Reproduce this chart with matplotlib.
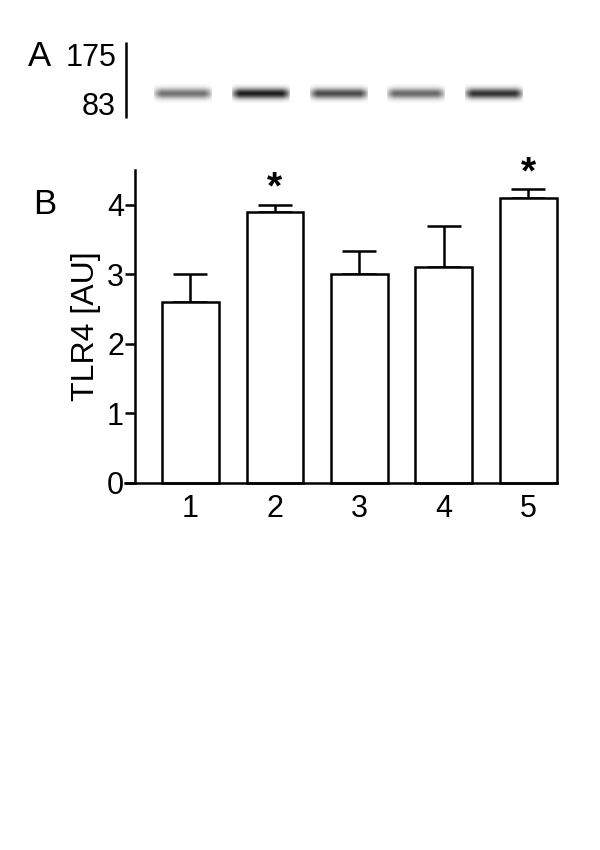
import matplotlib.pyplot as plt
import numpy as np

plt.rcParams['font.family'] = ['Liberation Sans', 'DejaVu Sans']

groups = ['1', '2', '3', '4', '5']
tlr4 = [2.6, 3.9, 3.0, 3.1, 4.1]
tlr4_err = [0.4, 0.1, 0.33, 0.6, 0.12]
signif = [False, True, False, False, True]
yticks = [0, 1, 2, 3, 4]

# western blot, panel A
band_darkness = [0.55, 0.88, 0.70, 0.58, 0.80]
marker_labels = ['175', '83']

fs = 22

fig = plt.figure(figsize=(6, 8.5), dpi=100)

# ---- panel A: blot strip (pixel-like coordinates)
axa = fig.add_axes([0.0, 1 - 125 / 850, 1.0, 90 / 850])
axa.axis('off')
axa.plot([126, 126], [42, 118], color='black', lw=1.8, solid_capstyle='butt')
axa.text(116, 58, marker_labels[0], ha='right', va='center', fontsize=fs)
axa.text(116, 107, marker_labels[1], ha='right', va='center', fontsize=fs)
axa.text(28, 56, 'A', ha='left', va='center', fontsize=fs + 3)

yy = np.linspace(-1, 1, 30)[:, None]
xx = np.linspace(-1, 1, 80)[None, :]
lane_x = [183, 260.5, 338.5, 416, 494]
for cx, d in zip(lane_x, band_darkness):
    prof = np.exp(-(yy / 0.55) ** 2) * np.clip(1.3 - np.abs(xx) ** 4, 0, 1)
    img = 1 - d * np.clip(prof, 0, 1)
    axa.imshow(img, cmap='gray', vmin=0, vmax=1, aspect='auto',
               extent=(cx - 29, cx + 29, 103, 84), interpolation='bilinear')
axa.set_xlim(0, 600)
axa.set_ylim(125, 35)

# ---- panel B: bar chart
ax = fig.add_axes([135 / 600, 1 - 483 / 850, (557 - 135) / 600, (483 - 170) / 850])
x = np.arange(1, len(groups) + 1)
ax.bar(x, tlr4, width=0.67, color='white', edgecolor='black', linewidth=1.8,
       zorder=2, clip_on=False)
ax.errorbar(x, tlr4, yerr=[np.zeros(len(x)), tlr4_err], fmt='none', ecolor='black',
            elinewidth=1.8, capsize=12.5, capthick=1.8, zorder=1)
for xi, v, e, s in zip(x, tlr4, tlr4_err, signif):
    if s:
        ax.text(xi, v + e - 0.03, '*', ha='center', va='bottom', fontsize=fs + 6,
                fontweight='bold')

ax.set_xlim(0.345, 5.34)
ax.set_ylim(0, 4.5)
ax.set_xticks(x)
ax.set_xticklabels(groups)
ax.set_yticks(yticks)
ax.tick_params(axis='x', length=0, labelsize=fs, pad=8)
ax.tick_params(axis='y', length=7, width=1.8, labelsize=fs, pad=1)
ax.spines['top'].set_visible(False)
ax.spines['right'].set_visible(False)
ax.spines['left'].set_linewidth(1.8)
ax.spines['bottom'].set_linewidth(1.8)
ax.spines['bottom'].set_bounds(0.23, 5.345)
ax.set_ylabel('TLR4 [AU]', fontsize=fs + 1, labelpad=4)
fig.text(33 / 600, 1 - 205 / 850, 'B', ha='left', va='center', fontsize=fs + 3)

fig.savefig('out.png', dpi=100)
